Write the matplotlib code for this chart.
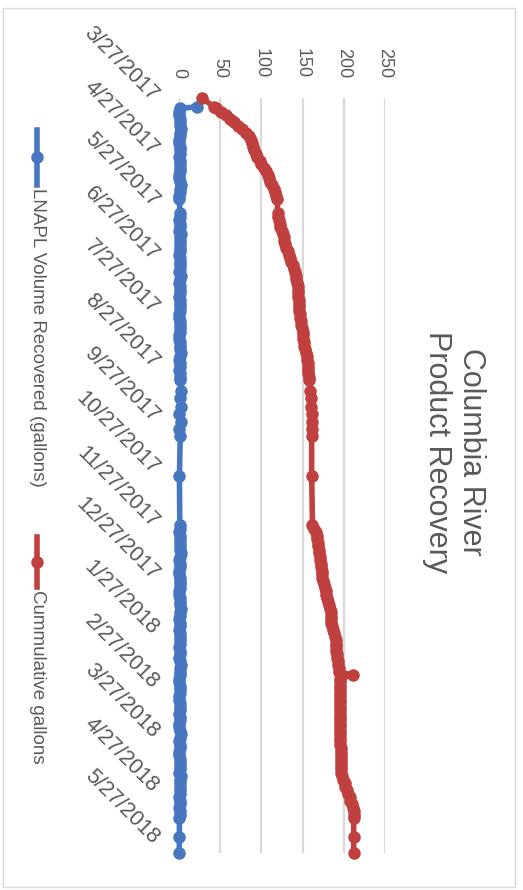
import matplotlib
matplotlib.use("Agg")
import matplotlib.pyplot as plt
from matplotlib.lines import Line2D
from matplotlib.patches import Rectangle
import numpy as np
import pandas as pd

plt.rcParams['font.family'] = ['Liberation Sans', 'DejaVu Sans']

# data (days since 3/27/2017)
days = [0, 5,
        6, 8, 10, 12, 14, 16, 18, 20, 22, 24,
        26, 28, 30, 32, 34, 36, 38, 40, 42, 44,
        46, 48, 50, 52, 54, 56, 58,
        66, 68, 70, 72, 74, 76, 78, 80, 82, 84,
        86, 88, 90, 92, 94, 96, 98, 100, 102, 104,
        106, 108, 110, 112, 114, 116, 118, 120, 122, 124,
        126, 128, 130, 132, 134, 136, 138, 140, 142, 144,
        146, 148, 150, 152, 154, 156, 158, 160, 162,
        168, 172, 177, 181, 186, 190, 194,
        217,
        245, 247, 249, 251, 253, 255, 257, 259, 261, 263,
        265, 267, 269, 271, 273, 275, 277, 279, 281, 283,
        285, 287, 289, 291, 293, 295, 297, 299, 301, 303,
        305, 307, 309, 311, 313, 315, 317, 319, 321, 323,
        325, 327, 329, 331, 333, 335, 337, 339, 341, 343,
        345, 347, 349, 351, 353, 355, 357, 359, 361, 363,
        365, 367, 369, 371, 373, 375, 377, 379, 381, 383,
        385, 387, 389, 391, 393, 395, 397, 399, 401, 403,
        405, 407, 409, 411, 413,
        424, 433]

lnapl = [np.nan, 22,
         1.0, 0.6, 0.5, 1.3, 1.5, 0.8, 2.0, 1.1, 0.8, 0.5,
         0.4, 0.9, 1.2, 0.7, 0.6, 1.4, 1.8, 0.9, 1.0, 0.6,
         0.5, 1.6, 2.5, 1.0, 0.9, 0.4, 0.3,
         1.2, 0.8, 0.5, 1.0, 1.0, 0.6, 2.0, 1.3, 0.7, 0.9,
         1.5, 1.1, 0.4, 0.8, 1.1, 1.6, 0.9, 0.5, 2.2, 1.0,
         0.6, 0.8, 1.0, 1.4, 0.3, 0.7, 1.4, 1.0, 0.8, 0.6,
         0.5, 1.2, 1.7, 0.9, 0.9, 0.4, 0.4, 1.1, 1.2, 0.8,
         2.0, 1.3, 0.6, 0.9, 1.0, 0.5, 0.8, 1.1, 1.3,
         2.5, 1.0, 3.0, 0.5, 2.0, 0.5, 1.5,
         0.5,
         1.0, 0.7, 0.4, 1.2, 1.5, 0.9, 0.8, 1.4, 2.0, 1.1,
         0.6, 0.8, 1.1, 0.5, 0.3, 1.0, 1.8, 1.3, 0.9, 0.6,
         0.5, 1.2, 1.3, 0.8, 2.1, 1.5, 0.7, 0.4, 1.0, 0.9,
         0.4, 1.1, 1.6, 1.0, 0.8, 0.6, 1.2, 0.9, 0.5, 1.4,
         2.0, 1.2, 0.9, 1.0, 0.3, 0.6, 1.4, 1.0, 0.8, 0.6,
         0.5, 1.1, 1.7, 0.9, 0.4, 0.8, 1.2, 0.6, 0.3, 1.0,
         2.2, 1.4, 0.6, 0.9, 1.0, 0.5, 0.3, 0.8, 1.5, 1.1,
         0.8, 0.6, 1.9, 1.2, 0.7, 0.9, 1.1, 0.8, 0.5, 1.3,
         1.0, 0.6, 0.8, 1.2, 0.5,
         0.5, 0.2]

cumulative = [28, 42,
              45, 51, 57, 62, 67, 72, 77, 81, 85, 87,
              88, 90, 91, 93, 95, 98, 100, 103, 106, 108,
              109, 111, 113, 115, 117, 118, 119,
              120, 120, 121, 122, 123, 125, 126, 127, 128, 129,
              130, 132, 133, 135, 136, 138, 139, 141, 142, 142,
              143, 144, 144, 145, 145, 146, 146, 146, 146, 147,
              147, 148, 148, 149, 150, 151, 151, 152, 152, 153,
              154, 155, 155, 156, 156, 157, 157, 158, 158,
              159, 160, 160, 161, 161, 161, 161,
              161,
              162, 164, 166, 167, 168, 169, 169, 170, 170, 171,
              171, 172, 172, 173, 173, 174, 175, 176, 177, 178,
              179, 180, 181, 182, 183, 184, 184, 185, 185, 186,
              187, 188, 189, 190, 190, 191, 191, 192, 192, 193,
              193, 194, 194, 211, 195, 195, 195, 195, 195, 195,
              195, 195, 195, 195, 195, 195, 195, 195, 195, 195,
              195, 195, 195, 195, 196, 196, 196, 196, 196, 196,
              196, 196, 198, 199, 201, 202, 204, 205, 207, 208,
              210, 211, 212, 212, 212,
              212, 212]

tick_labels = ['3/27/2017', '4/27/2017', '5/27/2017', '6/27/2017', '7/27/2017',
               '8/27/2017', '9/27/2017', '10/27/2017', '11/27/2017', '12/27/2017',
               '1/27/2018', '2/27/2018', '3/27/2018', '4/27/2018', '5/27/2018']
value_ticks = [0, 50, 100, 150, 200, 250]

assert len(days) == len(lnapl) == len(cumulative)

start = pd.Timestamp('2017-03-27')
dates = start + pd.to_timedelta(days, unit='D')
tick_dates = pd.to_datetime(tick_labels, format='%m/%d/%Y')

blue = '#4677c0'
red = '#c0403f'
txt = '#595959'

W, H = 523, 890
fig = plt.figure(figsize=(W / 100, H / 100), dpi=100)
ax = fig.add_axes([179 / W, 1 - 853 / H, 206 / W, 755 / H])

ax.plot(lnapl, dates, color=blue, lw=4, marker='o', ms=8, clip_on=False, zorder=3)
ax.plot(cumulative, dates, color=red, lw=4, marker='o', ms=8, clip_on=False, zorder=3)

ax.set_xlim(0, 250)
ax.set_ylim(dates[-1], dates[0])
ax.grid(axis='x', color='#d9d9d9', lw=1.6)
ax.set_axisbelow(True)
for s in ax.spines.values():
    s.set_visible(False)

ax.xaxis.tick_top()
ax.set_xticks(value_ticks)
ax.set_xticklabels([str(v) for v in value_ticks])
ax.tick_params(axis='x', length=0, pad=14, labelsize=13, labelrotation=-90, labelcolor=txt)

ax.set_yticks(tick_dates)
ax.set_yticklabels(tick_labels, rotation=-45, ha='right', va='center',
                   rotation_mode='anchor', fontsize=15.5, color=txt)
ax.tick_params(axis='y', length=0, pad=17)

fig.text(454 / W, 1 - 452 / H, "Columbia River\nProduct Recovery", rotation=-90,
         ha='center', va='center', multialignment='center', fontsize=22,
         color=txt, linespacing=1.15)

# legend, drawn vertically like the rotated original
def legend_entry(color, y0, y1, label):
    ym = (y0 + y1) / 2
    fig.add_artist(Line2D([37 / W] * 3, [1 - y0 / H, 1 - ym / H, 1 - y1 / H],
                          color=color, lw=4, marker='o', ms=8, markevery=[1],
                          transform=fig.transFigure))
    fig.text(37 / W, 1 - (y1 + 3) / H, label, rotation=-90, ha='center', va='top',
             fontsize=13.5, color=txt)

legend_entry(blue, 130, 185, 'LNAPL Volume Recovered (gallons)')
legend_entry(red, 537, 587, 'Cummulative gallons')

fig.add_artist(Rectangle((3 / W, 3 / H), 512 / W, 879 / H, transform=fig.transFigure,
                         fill=False, ec='#d9d9d9', lw=1))

fig.savefig('out.png', dpi=100)
